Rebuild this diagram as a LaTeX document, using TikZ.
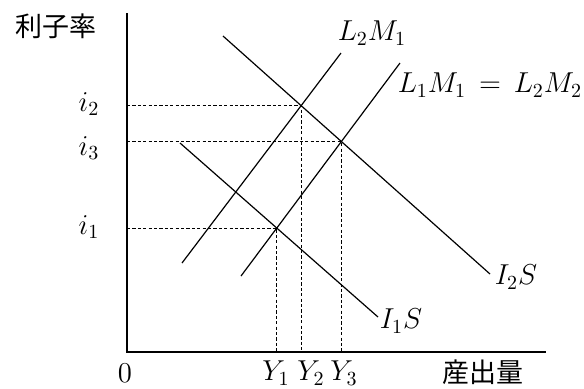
\documentclass[tikz,border=0pt]{standalone}
\usepackage{fontspec}
\newfontfamily\jafont{Noto Sans CJK JP}
\usetikzlibrary{calc}

\begin{document}
\begin{tikzpicture}[
  x=0.5pt, y=-0.5pt,
  axis/.style={line width=0.7pt, draw=black},
  curve/.style={line width=0.6pt, draw=black},
  guide/.style={line width=0.5pt, draw=black, dash pattern=on 1.6pt off 1.1pt},
  lbl/.style={font=\fontsize{14.5}{16}\selectfont, inner sep=1pt},
  jlbl/.style={font=\fontsize{13.5}{16}\selectfont\jafont, inner sep=1pt},
]
\useasboundingbox (0,0) rectangle (584,388);

% ---------------- axes ----------------
\coordinate (O) at (127,352);
\coordinate (ytop) at (127,13);
\coordinate (xend) at (546,352);
\draw[axis] (ytop) -- (O) -- (xend);
\node[jlbl] (rate) at (56,26) {利子率};
\node[jlbl] (output) at (483,372) {産出量};
\node[lbl] (zero) at (125,373) {$0$};

% ---------------- IS curves ----------------
\coordinate (is1a) at (180,143); \coordinate (is1b) at (378,317);
\coordinate (is2a) at (223,36);  \coordinate (is2b) at (490,274);
\draw[curve] (is1a) -- (is1b);
\draw[curve] (is2a) -- (is2b);
\node[lbl] (is1) at (401,321) {$I_1S$};
\node[lbl] (is2) at (516,277) {$I_2S$};

% ---------------- LM curves ----------------
\coordinate (lm1a) at (241,276); \coordinate (lm1b) at (400,63);
\coordinate (lm2a) at (182,263); \coordinate (lm2b) at (341,53);
\draw[curve] (lm1a) -- (lm1b);
\draw[curve] (lm2a) -- (lm2b);
\node[lbl] (lm1) at (490,85) {$L_1M_1\,=\,L_2M_2$};
\node[lbl] (lm2) at (372,33) {$L_2M_1$};

% ---------------- equilibria and guides ----------------
\coordinate (E1) at (intersection of is1a--is1b and lm1a--lm1b);
\coordinate (E2) at (intersection of is2a--is2b and lm2a--lm2b);
\coordinate (E3) at (intersection of is2a--is2b and lm1a--lm1b);
\foreach \e in {E1,E2,E3}
  \draw[guide] (\e -| O) -- (\e) -- (\e |- O);

\node[lbl] (i1) at (89,227) {$i_1$};
\node[lbl] (i2) at (89,104) {$i_2$};
\node[lbl] (i3) at (89,148) {$i_3$};
\node[lbl] (Y1) at (276,373) {$Y_1$};
\node[lbl] (Y2) at (311,373) {$Y_2$};
\node[lbl] (Y3) at (344,373) {$Y_3$};

\end{tikzpicture}
\end{document}
